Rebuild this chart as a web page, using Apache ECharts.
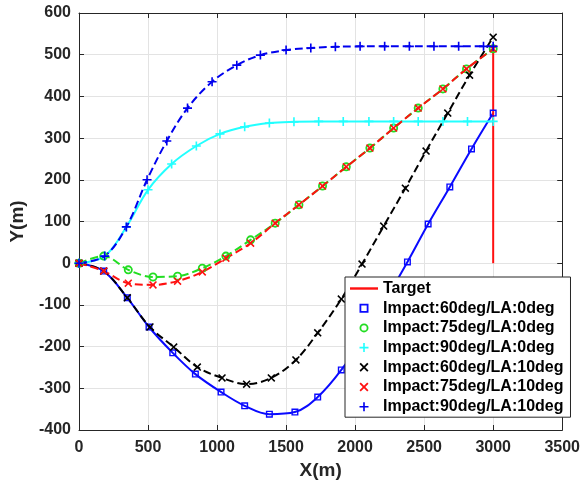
<!DOCTYPE html>
<html>
<head>
<meta charset="utf-8">
<script src="https://cdn.jsdelivr.net/npm/echarts@6/dist/echarts.min.js"></script>
<style>
  html, body { margin: 0; padding: 0; background: #fff; }
  #chart { width: 583px; height: 485px; }
</style>
</head>
<body>
<div id="chart"></div>
<script>
// target and trajectories (x, y in metres)
var targetX = [3000, 3000]
var targetY = [0, 520]

var imp60la0X = [0, 179, 350, 507, 679, 843, 1029, 1200, 1379, 1564, 1729, 1900, 2064, 2221, 2379, 2529, 2686, 2843, 3000]
var imp60la0Y = [0, -19, -83, -153, -215, -266, -309, -342, -362, -357, -321, -256, -174, -88, 3, 94, 183, 274, 360]

var imp75la0X = [0, 179, 357, 536, 714, 893, 1064, 1243, 1421, 1593, 1764, 1936, 2107, 2279, 2457, 2636, 2807, 3000]
var imp75la0Y = [0, 17, -16, -33, -31, -12, 17, 56, 96, 140, 185, 231, 276, 324, 372, 418, 466, 514]

var imp90la0X = [0, 186, 343, 500, 671, 850, 1021, 1200, 1379, 1557, 1736, 1914, 2100, 2279, 2457, 2636, 2814, 3000]
var imp90la0Y = [0, 17, 87, 176, 238, 281, 310, 327, 336, 339, 340, 340, 340, 340, 340, 340, 340, 340]

var imp60la10X = [0, 179, 350, 514, 686, 857, 1036, 1214, 1393, 1571, 1729, 1900, 2050, 2207, 2364, 2514, 2671, 2829, 3000]
var imp60la10Y = [0, -19, -83, -153, -201, -249, -275, -290, -275, -232, -167, -86, -2, 89, 180, 269, 360, 451, 542]

var imp75la10X = [0, 179, 357, 536, 714, 893, 1064, 1243, 1421, 1593, 1764, 1936, 2107, 2279, 2457, 2636, 2807, 3000]
var imp75la10Y = [0, -19, -48, -52, -43, -21, 12, 48, 96, 140, 185, 231, 276, 324, 372, 418, 466, 514]

var imp90la10X = [0, 186, 343, 493, 636, 786, 964, 1143, 1314, 1500, 1679, 1857, 2036, 2214, 2393, 2571, 2750, 2930, 3000]
var imp90la10Y = [0, 17, 87, 200, 293, 372, 435, 475, 499, 511, 516, 519, 520, 520, 520, 520, 520, 520, 520]

var xTicks = [0, 500, 1000, 1500, 2000, 2500, 3000, 3500]
var yTicks = [-400, -300, -200, -100, 0, 100, 200, 300, 400, 500, 600]

// marker shapes
var SQUARE = 'path://M0,0H10V10H0Z M2,2V8H8V2Z'
var CIRCLE = 'path://M5,0A5,5 0 1,1 5,10A5,5 0 1,1 5,0Z M5,2A3,3 0 1,0 5,8A3,3 0 1,0 5,2Z'
var PLUS = 'path://M4.1,0H5.9V4.1H10V5.9H5.9V10H4.1V5.9H0V4.1H4.1Z'
var CROSS = 'path://M1.4,0L5,3.6L8.6,0L10,1.4L6.4,5L10,8.6L8.6,10L5,6.4L1.4,10L0,8.6L3.6,5L0,1.4Z'
var LINE = 'path://M0,0H30V2.6H0Z'

var font = "'Liberation Sans', Arial, sans-serif"
var axisColor = '#262626'

function pairs(xs, ys) {
  var out = []
  for (let i = 0; i < xs.length; i++) {
    out.push([xs[i], ys[i]])
  }
  return out
}

function makeSerie(name, xs, ys, color, dashed, symbol, size) {
  return {
    name: name,
    type: 'line',
    data: pairs(xs, ys),
    smooth: 0.35,
    symbol: symbol,
    symbolSize: size,
    showAllSymbol: true,
    lineStyle: { color: color, width: 2, type: dashed ? [8, 4] : 'solid' },
    itemStyle: { color: color, borderWidth: 0 },
    emphasis: { disabled: true },
    animation: false
  }
}

var series = [
  makeSerie('Impact:60deg/LA:0deg', imp60la0X, imp60la0Y, '#0a0aff', false, SQUARE, 7),
  makeSerie('Impact:75deg/LA:0deg', imp75la0X, imp75la0Y, '#22dd22', true, CIRCLE, 9),
  makeSerie('Impact:90deg/LA:0deg', imp90la0X, imp90la0Y, '#22ffff', false, PLUS, 9),
  makeSerie('Impact:60deg/LA:10deg', imp60la10X, imp60la10Y, '#000000', true, CROSS, 8),
  makeSerie('Impact:75deg/LA:10deg', imp75la10X, imp75la10Y, '#ff1010', true, CROSS, 8),
  makeSerie('Impact:90deg/LA:10deg', imp90la10X, imp90la10Y, '#0000ee', true, PLUS, 9),
  {
    name: 'Target',
    type: 'line',
    data: pairs(targetX, targetY),
    symbol: 'none',
    lineStyle: { color: '#ff1010', width: 2 },
    itemStyle: { color: '#ff1010' },
    emphasis: { disabled: true },
    animation: false
  }
]

var legendIcons = {
  'Target': LINE,
  'Impact:60deg/LA:0deg': SQUARE,
  'Impact:75deg/LA:0deg': CIRCLE,
  'Impact:90deg/LA:0deg': PLUS,
  'Impact:60deg/LA:10deg': CROSS,
  'Impact:75deg/LA:10deg': CROSS,
  'Impact:90deg/LA:10deg': PLUS
}
var legendData = []
for (let k in legendIcons) {
  legendData.push({ name: k, icon: legendIcons[k] })
}

function xAxisOf(pos, showLabel) {
  return {
    type: 'value',
    position: pos,
    min: xTicks[0],
    max: xTicks[xTicks.length - 1],
    interval: 500,
    name: showLabel ? 'X(m)' : '',
    nameLocation: 'middle',
    nameGap: 26,
    nameTextStyle: { fontFamily: font, fontWeight: 'bold', fontSize: 19, color: axisColor },
    axisLine: { show: true, onZero: false, lineStyle: { color: axisColor, width: 1 } },
    axisTick: { show: true, inside: true, length: 5, lineStyle: { color: axisColor } },
    axisLabel: {
      show: showLabel, fontFamily: font, fontWeight: 'bold', fontSize: 16, color: axisColor, margin: 10,
      formatter: function (v) { return String(v) }
    },
    splitLine: { show: showLabel, lineStyle: { color: '#e3e3e3', width: 1 } }
  }
}

function yAxisOf(pos, showLabel) {
  return {
    type: 'value',
    position: pos,
    min: yTicks[0],
    max: yTicks[yTicks.length - 1],
    interval: 100,
    name: showLabel ? 'Y(m)' : '',
    nameLocation: 'middle',
    nameGap: 52,
    nameTextStyle: { fontFamily: font, fontWeight: 'bold', fontSize: 19, color: axisColor },
    axisLine: { show: true, onZero: false, lineStyle: { color: axisColor, width: 1 } },
    axisTick: { show: true, inside: true, length: 5, lineStyle: { color: axisColor } },
    axisLabel: {
      show: showLabel, fontFamily: font, fontWeight: 'bold', fontSize: 16, color: axisColor, margin: 8,
      formatter: function (v) { return String(v) }
    },
    splitLine: { show: showLabel, lineStyle: { color: '#e3e3e3', width: 1 } }
  }
}

var option = {
  backgroundColor: '#fff',
  animation: false,
  grid: { left: 73, right: 20, top: 13, bottom: 55, containLabel: false },
  xAxis: [xAxisOf('bottom', true), xAxisOf('top', false)],
  yAxis: [yAxisOf('left', true), yAxisOf('right', false)],
  legend: {
    orient: 'vertical',
    left: 345,
    top: 277,
    data: legendData,
    itemWidth: 28,
    itemHeight: 9,
    itemGap: 2.7,
    padding: [3, 7, 2, 5],
    backgroundColor: '#fff',
    borderColor: axisColor,
    borderWidth: 1,
    borderRadius: 0,
    symbolKeepAspect: true,
    selectedMode: false,
    itemStyle: { borderWidth: 0 },
    textStyle: { fontFamily: font, fontWeight: 'bold', fontSize: 16, lineHeight: 17, color: '#000' },
    z: 10
  },
  series: series
}

var myChart = echarts.init(document.getElementById('chart'), null, { renderer: 'canvas' })
myChart.setOption(option)
</script>
</body>
</html>
